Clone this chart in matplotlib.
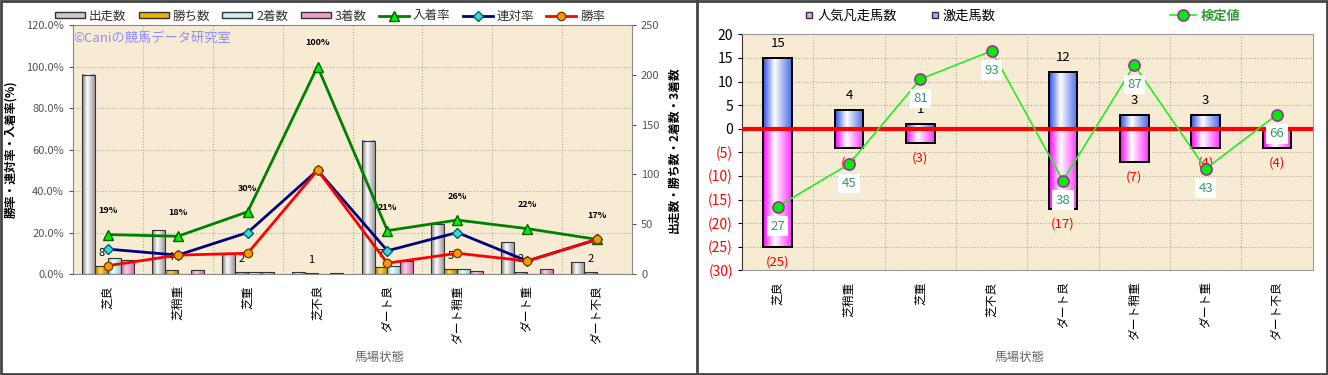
import numpy as np
import matplotlib
matplotlib.use("Agg")
import matplotlib.pyplot as plt
from matplotlib.colors import LinearSegmentedColormap
from matplotlib.patches import Patch, Rectangle
from matplotlib.lines import Line2D

plt.rcParams['font.family'] = ['Noto Sans CJK JP', 'DejaVu Sans']

# データ
categories = ['芝良', '芝稍重', '芝重', '芝不良', 'ダート良', 'ダート稍重', 'ダート重', 'ダート不良']
starts = [200, 44, 20, 2, 134, 50, 32, 12]
wins = [8, 4, 2, 1, 7, 5, 2, 2]
seconds = [16, 0, 2, 0, 8, 5, 0, 0]
thirds = [14, 4, 2, 1, 13, 3, 5, 0]

fail_counts = [25, 4, 3, 0, 17, 7, 4, 4]      # 人気凡走馬数
surge_counts = [15, 4, 1, 0, 12, 3, 3, 0]     # 激走馬数
test_values = [27, 45, 81, 93, 38, 87, 43, 66]  # 検定値

pct_ticks = [0, 20, 40, 60, 80, 100, 120]
cnt_ticks = [0, 50, 100, 150, 200, 250]
diff_ticks = [-30, -25, -20, -15, -10, -5, 0, 5, 10, 15, 20]

n = np.array(starts, float)
w = np.array(wins, float)
s = np.array(seconds, float)
t = np.array(thirds, float)
win_rate = w / n * 100
quin_rate = (w + s) / n * 100
place_rate = (w + s + t) / n * 100

BG = '#f7ecd3'
GRID = '#b0a898'


def cmap3(c_edge, c_mid, c_edge2):
    return LinearSegmentedColormap.from_list('g', [(0, c_edge), (0.4, c_mid), (1, c_edge2)])


def gradient_bars(ax, bars, cmap, z):
    grad = np.linspace(0, 1, 64).reshape(1, -1)
    for b in bars:
        x, y = b.get_x(), b.get_y()
        bw, bh = b.get_width(), b.get_height()
        if bh == 0:
            continue
        ax.imshow(grad, cmap=cmap, extent=[x, x + bw, y, y + bh],
                  aspect='auto', zorder=z, interpolation='bicubic')
        b.set_facecolor('none')
        b.set_zorder(z + 0.1)


fig = plt.figure(figsize=(13.28, 3.75), dpi=100)
x = np.arange(len(categories))

# ---------------- 左のグラフ ----------------
ax = fig.add_axes([73 / 1328, 1 - 274 / 375, (632 - 73) / 1328, 249 / 375])
ax.set_facecolor(BG)
bw = 0.185
series = [
    (starts, cmap3('#777777', '#ffffff', '#999999'), '#cccccc', '出走数'),
    (wins, cmap3('#b08000', '#ffd84a', '#b08000'), '#e8b400', '勝ち数'),
    (seconds, cmap3('#7fc8c8', '#eaffff', '#8fd0d0'), '#c8f0f0', '2着数'),
    (thirds, cmap3('#d0609a', '#ffd0e8', '#d070a8'), '#f0a0c8', '3着数'),
]
bar_sets = []
for i, (vals, cm, col, lab) in enumerate(series):
    bars = ax.bar(x + (i - 1.5) * bw, vals, bw, edgecolor='#333333', linewidth=0.8, zorder=2)
    gradient_bars(ax, bars, cm, 2)
    bar_sets.append(bars)

# 勝ち数ラベル
for b, v in zip(bar_sets[1], wins):
    ax.text(b.get_x() + b.get_width() / 2, b.get_height() + 13, str(v),
            ha='center', va='center', fontsize=8, zorder=6)

ax.set_xlim(-0.5, len(categories) - 0.5)
ax.set_ylim(0, 250)
ax.set_yticks(cnt_ticks)
ax.set_yticks(np.arange(0, 251, 250 / 6), minor=True)
ax.set_xticks(x)
ax.set_xticks(np.arange(0.5, len(categories) - 0.5, 1), minor=True)
ax.set_xticklabels(categories, rotation=90, fontsize=8.5)
ax.tick_params(axis='x', length=0, pad=8)
ax.tick_params(which='minor', length=0)
ax.grid(which='minor', color=GRID, linestyle=':', linewidth=0.8)
ax.set_axisbelow(True)
for sp in ax.spines.values():
    sp.set_color('#888888')

ax2 = ax.twinx()
# twinx moves the count ticks to the left, so put them back on the right
ax.yaxis.tick_right()
ax.yaxis.set_label_position('right')
ax.tick_params(axis='y', which='major', labelsize=8, colors='#555555', length=3)
ax.tick_params(axis='y', which='minor', length=0)
ax.set_ylabel('出走数・勝ち数・2着数・3着数', fontsize=8.5, fontweight='bold', labelpad=6)

ax2.yaxis.tick_left()
ax2.yaxis.set_label_position('left')
ax2.set_ylim(0, 120)
ax2.set_yticks(pct_ticks)
ax2.set_yticklabels(['%.1f%%' % v for v in pct_ticks])
ax2.tick_params(axis='y', labelsize=8, colors='#555555', length=3)
ax2.plot(x, place_rate, color='#008000', lw=2, marker='^', ms=7,
         mfc='#00ee00', mec='#006000', zorder=3, label='入着率')
ax2.plot(x, quin_rate, color='#000080', lw=2, marker='D', ms=5,
         mfc='#33dddd', mec='#006060', zorder=4, label='連対率')
ax2.plot(x, win_rate, color='#ff0000', lw=2, marker='o', ms=6,
         mfc='#ff9900', mec='#804000', zorder=5, label='勝率')
for xi, v in zip(x, place_rate):
    ax2.annotate('%d%%' % round(v), (xi, v), xytext=(0, 17), textcoords='offset points',
                 ha='center', va='center', fontsize=6.5, fontweight='bold')
ax2.set_ylabel('勝率・連対率・入着率(%)', fontsize=8.5, fontweight='bold', labelpad=6)
for sp in ax2.spines.values():
    sp.set_visible(False)
ax2.text(0.0, 0.945, '©Caniの競馬データ研究室', transform=ax2.transAxes,
         color='#8c8cff', fontsize=9.5, va='center', ha='left')

handles = [Patch(facecolor=c, edgecolor='#333333', label=l) for _, _, c, l in series]
handles += ax2.get_lines()
leg = fig.legend(handles=handles, loc='center', bbox_to_anchor=(330 / 1328, 1 - 16 / 375),
                 ncol=7, frameon=False, fontsize=9, handlelength=2.4, handleheight=0.45,
                 columnspacing=1.0, handletextpad=0.3)
for txt in leg.get_texts():
    txt.set_color('#333333')

fig.text(380 / 1328, 1 - 357 / 375, '馬場状態', ha='center', va='center', fontsize=9, color='#666666')

# ---------------- 右のグラフ ----------------
bx = fig.add_axes([742 / 1328, 1 - 270.3 / 375, (1312.7 - 742) / 1328, 236 / 375])
bx.set_facecolor(BG)
rw = 0.4
pos_bars = bx.bar(x, surge_counts, rw, edgecolor='black', linewidth=1.4, zorder=2)
neg_bars = bx.bar(x, [-v for v in fail_counts], rw, edgecolor='black', linewidth=1.4, zorder=2)
gradient_bars(bx, pos_bars, cmap3('#3050e0', '#ffffff', '#4a6ae8'), 2)
gradient_bars(bx, neg_bars, cmap3('#ff00ff', '#ffffff', '#ff30ff'), 2)
for b, v in zip(pos_bars, surge_counts):
    if v > 0:
        bx.text(b.get_x() + b.get_width() / 2, v + 3, str(v), ha='center', va='center',
                fontsize=9.5, zorder=3)
for b, v in zip(neg_bars, fail_counts):
    if v > 0:
        bx.text(b.get_x() + b.get_width() / 2, -v - 3.2, '(%d)' % v, ha='center', va='center',
                fontsize=9.5, color='#ff0000', zorder=3)
bx.axhline(0, color='#ff0000', lw=3, zorder=4)
bx.set_xlim(-0.5, len(categories) - 0.5)
bx.set_ylim(-30, 20)
bx.set_yticks(diff_ticks)
bx.set_yticklabels([str(v) if v >= 0 else '(%d)' % -v for v in diff_ticks])
for lab, v in zip(bx.get_yticklabels(), diff_ticks):
    lab.set_color('#ff0000' if v < 0 else 'black')
bx.set_xticks(x)
bx.set_xticks(np.arange(0.5, len(categories) - 0.5, 1), minor=True)
bx.set_xticklabels(categories, rotation=90, fontsize=8.5)
bx.tick_params(axis='x', length=0, pad=8)
bx.tick_params(axis='y', labelsize=10, length=3)
bx.tick_params(which='minor', length=0)
bx.grid(which='both', color=GRID, linestyle=':', linewidth=0.8)
bx.grid(which='major', axis='x', visible=False)
bx.set_axisbelow(True)
for sp in bx.spines.values():
    sp.set_color('#999999')
bx.spines['left'].set_color('#333333')

bx2 = bx.twinx()
bx2.set_ylim(0, 100)
bx2.set_yticks([])
for sp in bx2.spines.values():
    sp.set_visible(False)
bx2.plot(x, test_values, color='#22ee22', lw=1.2, marker='o', ms=8,
         mfc='#00ee00', mec='#993399', mew=1.2, zorder=5, label='検定値')
for xi, v in zip(x, test_values):
    bx2.annotate(str(v), (xi, v), xytext=(0, -14), textcoords='offset points',
                 ha='center', va='center', fontsize=9.5, color='#33996a',
                 bbox=dict(boxstyle='square,pad=0.25', fc='white', ec='none'), zorder=6)

h1 = Line2D([], [], ls='none', marker='s', ms=5, mfc='#ff99ff', mec='#333333', label='人気凡走馬数')
h2 = Line2D([], [], ls='none', marker='s', ms=5, mfc='#99aaff', mec='#333333', label='激走馬数')
for h, cx in [(h1, 851), (h2, 963)]:
    fig.legend(handles=[h], loc='center', bbox_to_anchor=(cx / 1328, 1 - 16 / 375),
               frameon=False, fontsize=9.5, handlelength=0.6, handletextpad=0.3)
lg3 = fig.legend(handles=bx2.get_lines(), loc='center', bbox_to_anchor=(1205 / 1328, 1 - 16 / 375),
                 frameon=False, fontsize=9.5, handlelength=2.0, handletextpad=0.3)
for txt in lg3.get_texts():
    txt.set_color('#339933')
    txt.set_fontweight('bold')

fig.text(1020 / 1328, 1 - 357 / 375, '馬場状態', ha='center', va='center', fontsize=9, color='#666666')

# 枠線
fig.add_artist(Rectangle((0.001, 0.002), 0.998, 0.995, transform=fig.transFigure,
                         fill=False, edgecolor='#444444', lw=2))
fig.add_artist(Line2D([697 / 1328, 697 / 1328], [0, 1], transform=fig.transFigure,
                      color='#444444', lw=2))

fig.savefig('out.png', dpi=100)
